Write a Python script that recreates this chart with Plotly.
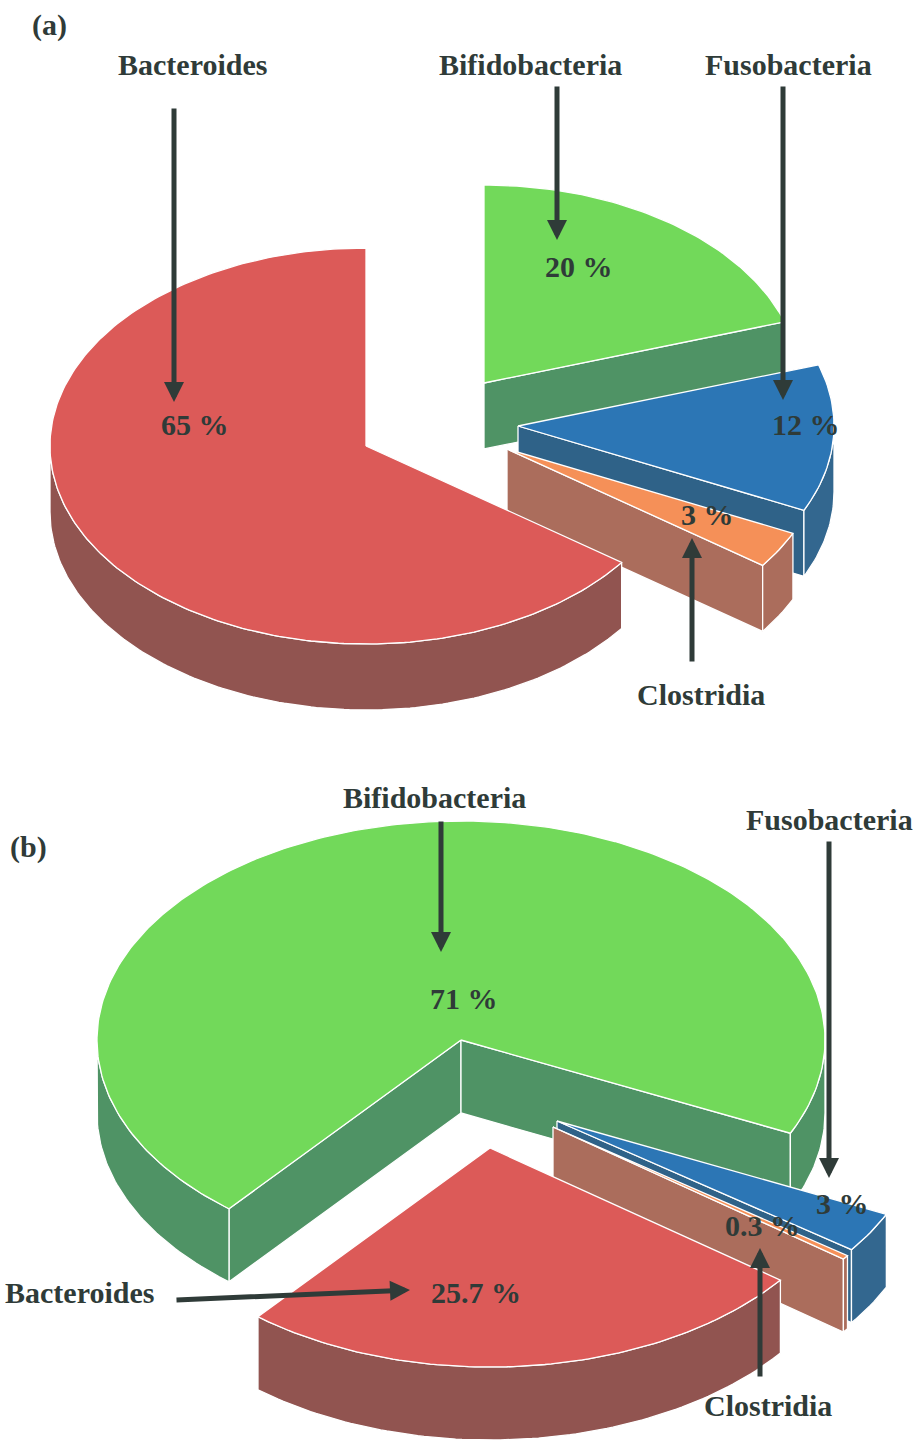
import math
import plotly.graph_objects as go

# ---- data ----
groups = ["Bifidobacteria", "Fusobacteria", "Clostridia", "Bacteroides"]
values_a = [20, 12, 3, 65]
values_b = [71, 3, 0.3, 25.7]

# ---- styles and layout ----
TOP = ["#72d95a", "#2c76b5", "#f59058", "#dc5a58"]
RADIAL = ["#4f9365", "#2f6288", "#ab6d5c", "#915450"]
WALL = ["#4f9365", "#33678f", "#ab6d5c", "#915450"]
INK = "#2f3b38"
FONT = "Liberation Serif"

PANEL_A = dict(start=0, rx=316, ry=198, depth=66,
               centers=[(484, 383), (518, 426), (507, 449), (366, 446)])
PANEL_B = dict(start=219.6, rx=364, ry=219, depth=73,
               centers=[(461, 1040), (557, 1121), (553, 1127), (490, 1148)])

fig = go.Figure()


def pt(c, rx, ry, theta, dy=0):
    t = math.radians(theta)
    return c[0] + rx * math.sin(t), c[1] - ry * math.cos(t) + dy


def poly(points, color, name):
    xs = [p[0] for p in points] + [points[0][0]]
    ys = [p[1] for p in points] + [points[0][1]]
    fig.add_trace(go.Scatter(x=xs, y=ys, mode="lines", fill="toself", fillcolor=color,
                             line=dict(color="white", width=1.3), name=name,
                             hoverinfo="name", showlegend=False))


def arc(a, b):
    n = max(2, int(abs(b - a)) + 1)
    return [a + (b - a) * i / (n - 1) for i in range(n)]


def draw_panel(values, panel):
    rx, ry, d = panel["rx"], panel["ry"], panel["depth"]
    a = panel["start"]
    for i, v in enumerate(values):
        b = a + v * 3.6
        c = panel["centers"][i]
        # radial cut faces that look toward the viewer
        for theta, visible in ((a, math.sin(math.radians(a)) < 0),
                               (b, math.sin(math.radians(b)) > 0)):
            if visible:
                p = pt(c, rx, ry, theta)
                poly([c, p, (p[0], p[1] + d), (c[0], c[1] + d)], RADIAL[i], groups[i])
        # outer wall: only the near half of the rim is seen
        for lo, hi in ((90, 270), (450, 630)):
            s, e = max(a, lo), min(b, hi)
            if e > s:
                thetas = arc(s, e)
                up = [pt(c, rx, ry, t) for t in thetas]
                down = [pt(c, rx, ry, t, d) for t in reversed(thetas)]
                poly(up + down, WALL[i], groups[i])
        # top face
        poly([c] + [pt(c, rx, ry, t) for t in arc(a, b)], TOP[i], groups[i])
        a = b


draw_panel(values_a, PANEL_A)
draw_panel(values_b, PANEL_B)

ARROWS = [
    ((174, 107), (174, 402)), ((557, 85), (557, 240)), ((783, 85), (783, 400)),
    ((692, 663), (692, 538)), ((441, 820), (441, 952)), ((829, 840), (829, 1178)),
    ((175, 1300), (410, 1290)), ((760, 1378), (760, 1248)),
]
for tail, head in ARROWS:
    fig.add_annotation(x=head[0], y=head[1], ax=tail[0], ay=tail[1], xref="x", yref="y",
                       axref="x", ayref="y", text="", showarrow=True, arrowhead=2,
                       arrowsize=0.8, arrowwidth=5, arrowcolor=INK)

LABELS = [
    ("(a)", 49, 25), ("(b)", 28, 847),
    (groups[3], 192, 64), (groups[0], 530, 64), (groups[1], 788, 64), (groups[2], 701, 694),
    (groups[0], 434, 797), (groups[1], 829, 819), (groups[3], 79, 1292), (groups[2], 768, 1405),
]
PCT_POS_A = [(579, 266), (806, 424), (707, 514), (195, 424)]
PCT_POS_B = [(464, 998), (842, 1203), (762, 1225), (476, 1292)]
for vals, pos in ((values_a, PCT_POS_A), (values_b, PCT_POS_B)):
    for v, (x, y) in zip(vals, pos):
        LABELS.append((f"{v:g} %", x, y))
for text, x, y in LABELS:
    fig.add_annotation(x=x, y=y, xref="x", yref="y", text=f"<b>{text}</b>", showarrow=False,
                       font=dict(family=FONT, size=30, color=INK))

fig.update_layout(
    width=917, height=1440, margin=dict(l=0, r=0, t=0, b=0),
    paper_bgcolor="white", plot_bgcolor="white", showlegend=False,
    xaxis=dict(range=[0, 917], visible=False, fixedrange=True),
    yaxis=dict(range=[1440, 0], visible=False, fixedrange=True),
)
fig.write_html("out.html", config={"displayModeBar": False},
               post_script="document.body.style.margin='0';")
